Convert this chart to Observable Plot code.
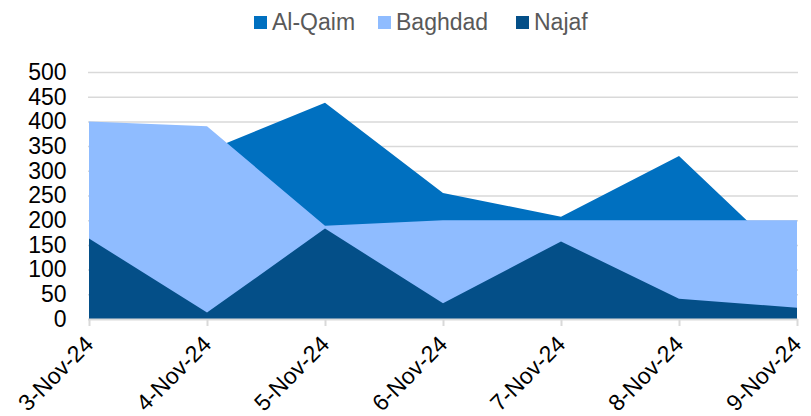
<!DOCTYPE html>
<html>
<head>
<meta charset="utf-8">
<script src="https://cdn.jsdelivr.net/npm/d3@7"></script>
<script src="https://cdn.jsdelivr.net/npm/@observablehq/plot@0.6"></script>
<style>
  html, body { margin: 0; padding: 0; background: #fff; }
  body { width: 811px; height: 416px; overflow: hidden; font-family: "Liberation Sans", Arial, sans-serif; }
  #legend { height: 45px; position: relative; }
  #legend .item { position: absolute; top: 8px; display: flex; align-items: center; font-size: 23px; color: #595959; line-height: 28px; }
  #legend .sw { width: 13px; height: 13px; margin-right: 5px; }
</style>
</head>
<body>
<div id="legend"></div>
<div id="chart"></div>
<script>
const dates = ["3-Nov-24", "4-Nov-24", "5-Nov-24", "6-Nov-24", "7-Nov-24", "8-Nov-24", "9-Nov-24"];
const alQaim = [327, 340, 438, 255, 207, 330, 103];
const baghdad = [400, 390, 189, 200, 200, 200, 200];
const najaf = [163, 13, 183, 32, 157, 41, 23];
const seriesNames = ["Al-Qaim", "Baghdad", "Najaf"];
const seriesColors = ["#0070C0", "#8FBCFF", "#044F88"];
const yTicks = [0, 50, 100, 150, 200, 250, 300, 350, 400, 450, 500];

const seriesValues = [alQaim, baghdad, najaf];
const rows = [];
seriesNames.forEach((name, i) => {
  dates.forEach((d, j) => rows.push({date: d, series: name, value: seriesValues[i][j]}));
});

// legend
const legendX = [254, 378, 516];
const legend = document.getElementById("legend");
seriesNames.forEach((name, i) => {
  const item = document.createElement("div");
  item.className = "item";
  item.style.left = legendX[i] + "px";
  const sw = document.createElement("span");
  sw.className = "sw";
  sw.style.background = seriesColors[i];
  const t = document.createElement("span");
  t.textContent = name;
  item.appendChild(sw);
  item.appendChild(t);
  legend.appendChild(item);
});

const chart = Plot.plot({
  width: 811,
  height: 371,
  marginLeft: 88,
  marginRight: 13,
  marginTop: 27,
  marginBottom: 97,
  style: {fontSize: "23px", fontFamily: "'Liberation Sans', Arial, sans-serif", color: "#000", overflow: "visible"},
  x: {type: "point", domain: dates, padding: 0},
  y: {domain: [0, 500]},
  color: {domain: seriesNames, range: seriesColors},
  marks: [
    Plot.gridY(yTicks.slice(1), {stroke: "#d9d9d9", strokeOpacity: 1, strokeWidth: 1.5}),
    ...seriesNames.map(name => Plot.areaY(rows.filter(r => r.series === name), {x: "date", y: "value", fill: "series", fillOpacity: 1})),
    Plot.ruleY([0], {stroke: "#d9d9d9", strokeWidth: 2}),
    Plot.axisY({ticks: yTicks, tickSize: 0, tickPadding: 22, label: null, fontSize: 23, fill: "#000"}),
    Plot.axisX({tickRotate: -45, tickSize: 7, tickPadding: 14, label: null, fontSize: 23, stroke: "#d9d9d9", strokeOpacity: 1, strokeWidth: 2, fill: "#000"})
  ]
});
document.getElementById("chart").appendChild(chart);
</script>
</body>
</html>
